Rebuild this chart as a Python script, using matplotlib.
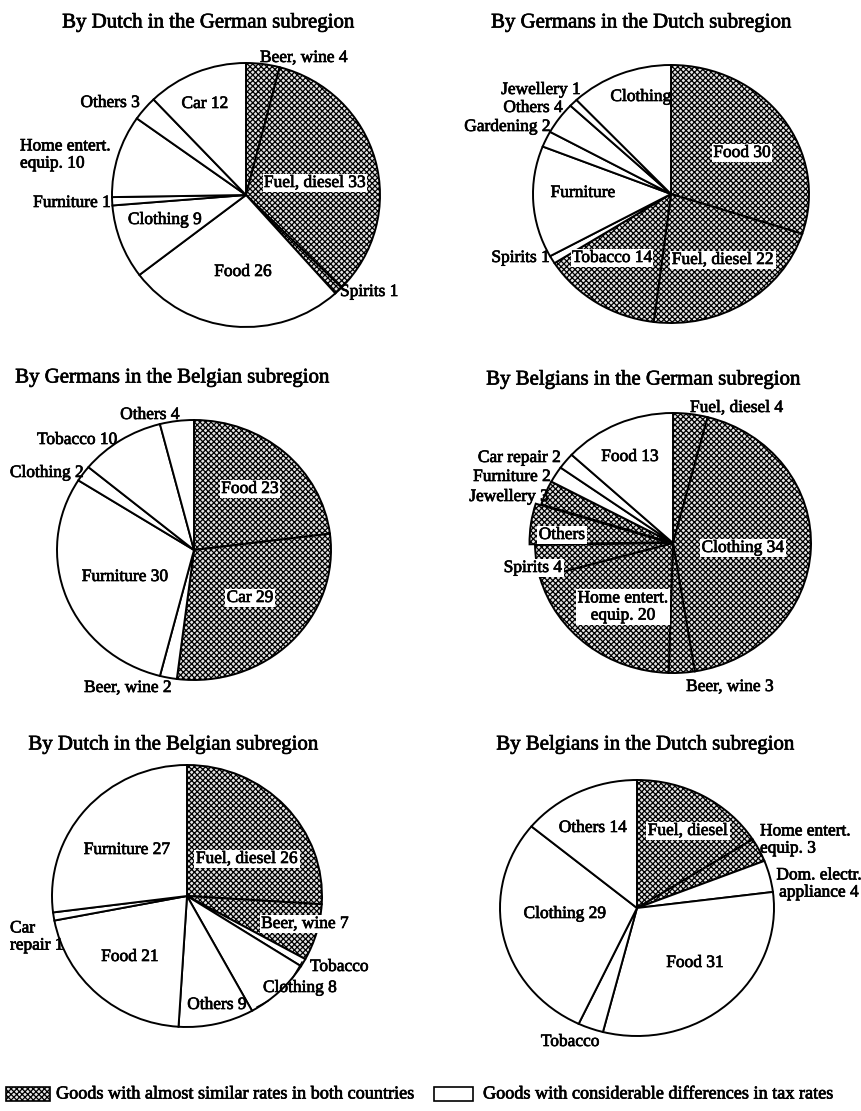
import matplotlib
matplotlib.use('Agg')
import matplotlib.pyplot as plt
import matplotlib.patheffects as pe
from matplotlib.patches import Rectangle
from matplotlib.lines import Line2D

plt.rcParams['font.family'] = ['Liberation Serif', 'DejaVu Serif']
plt.rcParams['hatch.linewidth'] = 0.9

W, H = 861, 1111
fig = plt.figure(figsize=(W / 100, H / 100), dpi=100)

# ---------------- data ----------------
titles = [
    "By Dutch in the German subregion",
    "By Germans in the Dutch subregion",
    "By Germans in the Belgian subregion",
    "By Belgians in the German subregion",
    "By Dutch in the Belgian subregion",
    "By Belgians in the Dutch subregion",
]

# Pie 1: By Dutch in the German subregion (clockwise from 12 o'clock)
p1_cats = ["Beer, wine", "Fuel, diesel", "Spirits", "Food", "Clothing",
           "Furniture", "Home entert. equip.", "Others", "Car"]
p1_vals = [4, 33, 1, 26, 9, 1, 10, 3, 12]
p1_shaded = [1, 1, 1, 0, 0, 0, 0, 0, 0]

# Pie 2: By Germans in the Dutch subregion
p2_cats = ["Food", "Fuel, diesel", "Tobacco", "Spirits", "Furniture",
           "Gardening", "Others", "Jewellery", "Clothing"]
p2_vals = [30, 22, 14, 1, 14, 2, 4, 1, 12]
p2_shaded = [1, 1, 1, 0, 0, 0, 0, 0, 0]

# Pie 3: By Germans in the Belgian subregion
p3_cats = ["Food", "Car", "Beer, wine", "Furniture", "Clothing", "Tobacco", "Others"]
p3_vals = [23, 29, 2, 30, 2, 10, 4]
p3_shaded = [1, 1, 0, 0, 0, 0, 0]

# Pie 4: By Belgians in the German subregion
p4_cats = ["Fuel, diesel", "Clothing", "Beer, wine", "Home entert. equip.", "Spirits",
           "Others", "Jewellery", "Furniture", "Car repair", "Food"]
p4_vals = [4, 43, 3, 20, 4, 5, 3, 2, 2, 13]
p4_shaded = [1, 1, 1, 1, 1, 1, 1, 0, 0, 0]
p4_explode = [0, 0, 0, 0, 0, 0.04, 0, 0, 0, 0]

# Pie 5: By Dutch in the Belgian subregion
p5_cats = ["Fuel, diesel", "Beer, wine", "Tobacco", "Clothing", "Others",
           "Food", "Car repair", "Furniture"]
p5_vals = [26, 7, 1, 8, 9, 21, 1, 27]
p5_shaded = [1, 1, 0, 0, 0, 0, 0, 0]

# Pie 6: By Belgians in the Dutch subregion
p6_cats = ["Fuel, diesel", "Home entert. equip.", "Dom. electr. appliance",
           "Food", "Tobacco", "Clothing", "Others"]
p6_vals = [16, 3, 4, 31, 3, 29, 14]
p6_shaded = [1, 1, 0, 0, 0, 0, 0]

legend_labels = ["Goods with almost similar rates in both countries",
                 "Goods with considerable differences in tax rates"]

# label texts as printed in the figure
p1_labels = ["Beer, wine 4", "Car 12", "Others 3", "Home entert.\nequip. 10",
             "Fuel, diesel 33", "Furniture 1", "Clothing 9", "Food 26", "Spirits 1"]
p2_labels = ["Clothing", "Jewellery 1", "Others 4", "Gardening 2", "Food 30",
             "Furniture", "Spirits 1", "Tobacco 14", "Fuel, diesel 22"]
p3_labels = ["Others 4", "Tobacco 10", "Clothing 2", "Food 23", "Furniture 30",
             "Car 29", "Beer, wine 2"]
p4_labels = ["Fuel, diesel 4", "Food 13", "Car repair 2", "Furniture 2", "Jewellery 3",
             "Others", "Clothing 34", "Spirits 4", "Home entert.\nequip. 20", "Beer, wine 3"]
p5_labels = ["Furniture 27", "Fuel, diesel 26", "Beer, wine 7", "Car\nrepair 1",
             "Food 21", "Tobacco", "Clothing 8", "Others 9"]
p6_labels = ["Others 14", "Fuel, diesel", "Home entert.\nequip. 3",
             "Dom. electr.\nappliance 4", "Clothing 29", "Food 31", "Tobacco"]

# ---------------- layout (pixels) ----------------
# pie: centre x, centre y, horizontal radius, vertical radius
pie_geom = [(246, 195, 134, 132), (671, 194, 138, 129),
            (194, 550, 137, 130), (673, 543, 138, 130),
            (187, 896, 135, 131), (637, 908, 137, 128)]
title_pos = [(209, 23), (642, 23), (173, 378), (644, 380), (174, 745), (646, 745)]

# label placement: x, y, ha, white box
p1_lpos = [(260, 58, 'left', 0), (205, 104, 'center', 0), (140, 103, 'right', 0),
           (20, 155, 'left', 0), (315, 183, 'center', 1), (111, 203, 'right', 0),
           (165, 220, 'center', 0), (243, 272, 'center', 0), (340, 292, 'left', 0)]
p2_lpos = [(641, 97, 'center', 0), (581, 90, 'right', 0), (563, 108, 'right', 0),
           (551, 127, 'right', 0), (742, 153, 'center', 1), (583, 193, 'center', 0),
           (550, 258, 'right', 0), (612, 258, 'center', 1), (723, 260, 'center', 1)]
p3_lpos = [(150, 415, 'center', 0), (77, 440, 'center', 0), (47, 473, 'center', 0),
           (250, 489, 'center', 1), (125, 577, 'center', 0), (250, 598, 'center', 1),
           (128, 688, 'center', 0)]
p4_lpos = [(690, 408, 'left', 0), (630, 457, 'center', 0), (561, 458, 'right', 0),
           (551, 477, 'right', 0), (549, 497, 'right', 0), (562, 535, 'center', 1),
           (743, 548, 'center', 1), (533, 568, 'center', 1), (623, 607, 'center', 1),
           (730, 687, 'center', 0)]
p5_lpos = [(127, 850, 'center', 0), (247, 859, 'center', 1), (305, 924, 'center', 1),
           (10, 937, 'left', 0), (130, 957, 'center', 0), (310, 967, 'left', 0),
           (263, 988, 'left', 0), (217, 1005, 'center', 0)]
p6_lpos = [(593, 828, 'center', 0), (688, 831, 'center', 1), (760, 840, 'left', 0),
           (819, 884, 'center', 0), (565, 914, 'center', 0), (695, 963, 'center', 0),
           (570, 1042, 'center', 0)]

HATCH = 'xxxxxx'
LABEL_FS = 12.5
TITLE_FS = 15
LEGEND_FS = 13.1
THICK = [pe.withStroke(linewidth=0.5, foreground='black')]


def fx(x):
    return x / W


def fy(y):
    return 1 - y / H


def draw_pie(idx, vals, shaded, explode=None, margin=1.15):
    cx, cy, rh, rv = pie_geom[idx]
    ax = fig.add_axes([(cx - margin * rh) / W, 1 - (cy + margin * rv) / H,
                       2 * margin * rh / W, 2 * margin * rv / H])
    wedges, _ = ax.pie(vals, startangle=90, counterclock=False, radius=1,
                       explode=explode,
                       wedgeprops=dict(edgecolor='black', linewidth=1.4))
    for w, s in zip(wedges, shaded):
        w.set_facecolor('white')
        if s:
            w.set_facecolor('#e4e4e4')
            w.set_hatch(HATCH)
    ax.set_aspect('auto')
    ax.set_xlim(-margin, margin)
    ax.set_ylim(-margin, margin)
    ax.axis('off')
    tx, ty = title_pos[idx]
    fig.text(fx(tx), fy(ty), titles[idx], ha='center', va='center',
             fontsize=TITLE_FS, path_effects=THICK)
    return ax


def draw_labels(labels, lpos):
    for txt, (x, y, ha, boxed) in zip(labels, lpos):
        kw = {}
        if boxed:
            kw['bbox'] = dict(facecolor='white', edgecolor='none', pad=1.0)
        fig.text(fx(x), fy(y), txt, ha=ha, va='center', fontsize=LABEL_FS,
                 linespacing=1.1, zorder=5, path_effects=THICK, **kw)


draw_pie(0, p1_vals, p1_shaded)
draw_labels(p1_labels, p1_lpos)
draw_pie(1, p2_vals, p2_shaded)
draw_labels(p2_labels, p2_lpos)
draw_pie(2, p3_vals, p3_shaded)
draw_labels(p3_labels, p3_lpos)
draw_pie(3, p4_vals, p4_shaded, explode=p4_explode)
draw_labels(p4_labels, p4_lpos)
draw_pie(4, p5_vals, p5_shaded)
draw_labels(p5_labels, p5_lpos)
draw_pie(5, p6_vals, p6_shaded)
draw_labels(p6_labels, p6_lpos)

# leader lines in pie 5
for (x0, y0, x1, y1) in [(302, 962, 292, 979), (257, 1007, 268, 1001)]:
    fig.add_artist(Line2D([fx(x0), fx(x1)], [fy(y0), fy(y1)], color='black',
                          lw=1.0, transform=fig.transFigure))

# legend
fig.add_artist(Rectangle((fx(6), fy(1101)), 44 / W, 14 / H, transform=fig.transFigure,
                         facecolor='#e4e4e4', edgecolor='black', hatch=HATCH, lw=1.2))
fig.text(fx(56), fy(1094), legend_labels[0], ha='left', va='center',
         fontsize=LEGEND_FS, path_effects=THICK)
fig.add_artist(Rectangle((fx(434), fy(1101)), 39 / W, 14 / H, transform=fig.transFigure,
                         facecolor='white', edgecolor='black', lw=1.2))
fig.text(fx(483), fy(1094), legend_labels[1], ha='left', va='center',
         fontsize=LEGEND_FS, path_effects=THICK)

fig.savefig('out.png', dpi=100, facecolor='white')
